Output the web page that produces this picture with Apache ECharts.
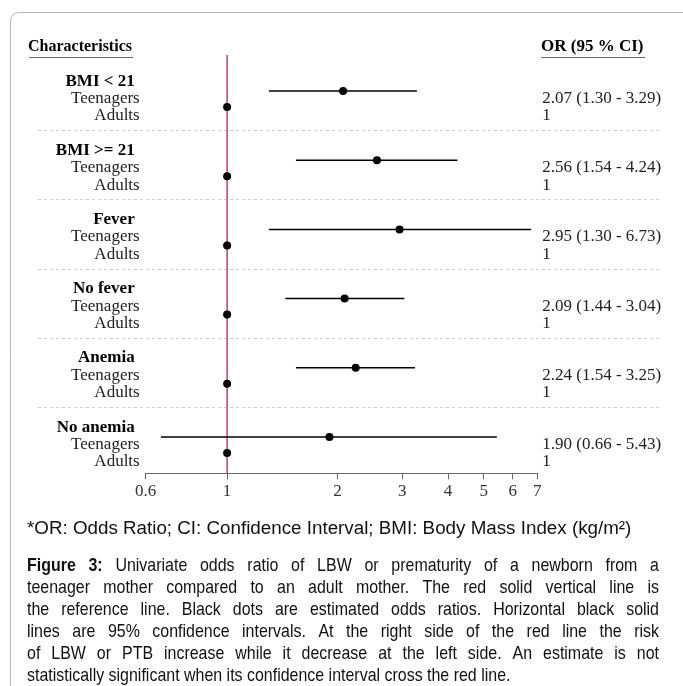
<!DOCTYPE html>
<html><head><meta charset="utf-8">
<script src="https://cdn.jsdelivr.net/npm/echarts@6/dist/echarts.min.js"></script>
<style>html,body{margin:0;padding:0;background:#fff}#c{width:683px;height:686px}</style>
</head><body><div id="c"></div>
<script>
// ---------------- data ----------------
const groups = ['BMI < 21', 'BMI >= 21', 'Fever', 'No fever', 'Anemia', 'No anemia'];
const subRows = ['Teenagers', 'Adults'];
const oddsRatio = [2.07, 2.56, 2.95, 2.09, 2.24, 1.90];
const ciLower = [1.30, 1.54, 1.30, 1.44, 1.54, 0.66];
const ciUpper = [3.29, 4.24, 6.73, 3.04, 3.25, 5.43];
const referenceOR = 1;
const xTicks = [0.6, 1, 2, 3, 4, 5, 6, 7];
const headerLeft = 'Characteristics';
const headerRight = 'OR (95 % CI)';
const footnote = '*OR: Odds Ratio; CI: Confidence Interval; BMI: Body Mass Index (kg/m\u00B2)';
const captionLines = [
  'Figure 3: Univariate odds ratio of LBW or prematurity of a newborn from a',
  'teenager mother compared to an adult mother. The red solid vertical line is',
  'the reference line. Black dots are estimated odds ratios. Horizontal black solid',
  'lines are 95% confidence intervals. At the right side of the red line the risk',
  'of LBW or PTB increase while it decrease at the left side. An estimate is not',
  'statistically significant when its confidence interval cross the red line.'
];

// ---------------- layout ----------------
const SERIF = 'Liberation Serif';
const SANS = 'Liberation Sans';
const GROUP_STEP = 4.325;          // plot rows per group (value units)
const Y_MIN = -1.106, Y_MAX = 23.894, Y_LINE_TOP = -2.25;
const PLOT_GRID = {left: 145.7, right: 145.7, top: 73.3, bottom: 212.7};
const TEXT_GRID = {left: 145.7, right: 145.7, top: 72.6, bottom: 198.2};

const rowIds = [];
const rowText = {};
const rightText = {};
groups.forEach((g, i) => {
  rowIds.push('h' + i, 't' + i, 'a' + i, 'b' + i);
  rowText['h' + i] = '{h|' + g + '}';
  rowText['t' + i] = '{s|' + subRows[0] + '}';
  rowText['a' + i] = '{s|' + subRows[1] + '}';
  rowText['b' + i] = '';
  rightText['h' + i] = '';
  rightText['t' + i] = oddsRatio[i].toFixed(2) + ' (' + ciLower[i].toFixed(2) + ' - ' + ciUpper[i].toFixed(2) + ')';
  rightText['a' + i] = String(referenceOR);
  rightText['b' + i] = '';
});

const teenPoints = groups.map((g, i) => [oddsRatio[i], i * GROUP_STEP]);
const adultPoints = groups.map((g, i) => [referenceOR, i * GROUP_STEP + 1]);
const ciData = groups.map((g, i) => [ciLower[i], ciUpper[i], i * GROUP_STEP]);

const chart = echarts.init(document.getElementById('c'), null, {renderer: 'canvas'});

chart.setOption({
  animation: false,
  backgroundColor: '#fff',
  grid: [
    Object.assign({outerBoundsMode: 'none', containLabel: false}, PLOT_GRID),
    Object.assign({outerBoundsMode: 'none', containLabel: false}, TEXT_GRID)
  ],
  xAxis: [{
    type: 'log', logBase: 10, min: 0.6, max: 7, gridIndex: 0,
    axisLine: {show: true, onZero: false, lineStyle: {color: '#666', width: 1}},
    axisTick: {show: true, length: 6, customValues: xTicks, lineStyle: {color: '#666', width: 1}},
    minorTick: {show: false},
    axisLabel: {
      customValues: xTicks, margin: 10, fontFamily: SERIF, fontSize: 17, color: '#333',
      formatter: v => String(Math.round(v * 10) / 10)
    },
    splitLine: {show: false}
  }, {
    type: 'value', gridIndex: 1, show: false
  }],
  yAxis: [
    {type: 'value', gridIndex: 0, min: Y_MIN, max: Y_MAX, inverse: true, show: false},
    {
      type: 'category', gridIndex: 1, data: rowIds, inverse: true, position: 'left',
      axisLine: {show: false}, axisTick: {show: false}, splitLine: {show: false},
      axisLabel: {
        interval: 0, margin: 6, formatter: v => rowText[v],
        rich: {
          h: {fontFamily: SERIF, fontSize: 17, fontWeight: 'bold', color: '#000', padding: [0, 5, 0, 0]},
          s: {fontFamily: SERIF, fontSize: 17, color: '#222'}
        }
      }
    },
    {
      type: 'category', gridIndex: 1, data: rowIds, inverse: true, position: 'right',
      axisLine: {show: false}, axisTick: {show: false}, splitLine: {show: false},
      axisLabel: {interval: 0, margin: 5, fontFamily: SERIF, fontSize: 17, color: '#222', formatter: v => rightText[v]}
    }
  ],
  series: [
    {
      type: 'line', xAxisIndex: 0, yAxisIndex: 0, clip: false, silent: true, symbol: 'none', z: 1,
      data: [[referenceOR, Y_LINE_TOP], [referenceOR, Y_MAX]],
      lineStyle: {color: '#c63a5e', width: 1.5}
    },
    {
      type: 'custom', xAxisIndex: 0, yAxisIndex: 0, silent: true, z: 2,
      encode: {x: [0, 1], y: 2},
      data: ciData,
      renderItem: (params, api) => {
        const p1 = api.coord([api.value(0), api.value(2)]);
        const p2 = api.coord([api.value(1), api.value(2)]);
        return {type: 'line', shape: {x1: p1[0], y1: p1[1], x2: p2[0], y2: p2[1]},
                style: {stroke: '#000', lineWidth: 1.5}};
      }
    },
    {
      type: 'scatter', xAxisIndex: 0, yAxisIndex: 0, silent: true, z: 3,
      symbolSize: 8, itemStyle: {color: '#000', opacity: 1}, data: teenPoints
    },
    {
      type: 'scatter', xAxisIndex: 0, yAxisIndex: 0, silent: true, z: 3,
      symbolSize: 8, itemStyle: {color: '#000', opacity: 1}, data: adultPoints
    }
  ]
});

// ---------------- decorations (frame, headers, separators, caption) ----------------
const els = [];
els.push({type: 'rect', shape: {x: 10.5, y: 12.5, width: 720, height: 700, r: 8},
          style: {fill: null, stroke: '#b4b4b4', lineWidth: 1}, z: 0});
els.push({type: 'text', x: 28, y: 47, style: {text: headerLeft, font: 'bold 16px "' + SERIF + '"', fill: '#000', verticalAlign: 'middle'}});
els.push({type: 'line', shape: {x1: 29, y1: 57.5, x2: 133, y2: 57.5}, style: {stroke: '#666', lineWidth: 1}});
els.push({type: 'text', x: 541, y: 47, style: {text: headerRight, font: 'bold 17px "' + SERIF + '"', fill: '#000', verticalAlign: 'middle'}});
els.push({type: 'line', shape: {x1: 541, y1: 57.5, x2: 645, y2: 57.5}, style: {stroke: '#666', lineWidth: 1}});

for (let i = 0; i < groups.length - 1; i++) {
  const y = Math.round(chart.convertToPixel({yAxisIndex: 1}, 4 * i + 3) - 3) + 0.5;
  els.push({type: 'line', shape: {x1: 38, y1: y, x2: 662, y2: y},
            style: {stroke: '#cfcfcf', lineWidth: 1, lineDash: [3, 3]}});
}

els.push({type: 'text', x: 27, y: 529, style: {text: footnote, font: '18.8px "' + SANS + '"', fill: '#111', verticalAlign: 'middle'}});

const ctx = document.createElement('canvas').getContext('2d');
const CAP_LEFT = 27, CAP_RIGHT = 659, CAP_TOP = 566, CAP_LH = 22, CAP_SX = 0.84, CAP_SIZE = 19;
const capFont = (bold) => (bold ? 'bold ' : '') + CAP_SIZE + 'px "' + SANS + '"';
captionLines.forEach((line, li) => {
  const words = line.split(' ');
  const fonts = words.map((w, wi) => capFont(li === 0 && wi < 2));
  const widths = words.map((w, wi) => { ctx.font = fonts[wi]; return ctx.measureText(w).width * CAP_SX; });
  ctx.font = capFont(false);
  const spaceW = ctx.measureText(' ').width * CAP_SX;
  const total = widths.reduce((a, b) => a + b, 0);
  const last = li === captionLines.length - 1;
  const gap = last ? spaceW : (CAP_RIGHT - CAP_LEFT - total) / (words.length - 1);
  let x = CAP_LEFT;
  const y = CAP_TOP + li * CAP_LH;
  words.forEach((w, wi) => {
    els.push({type: 'text', x: x, y: y, scaleX: CAP_SX, originX: 0,
              style: {text: w, font: fonts[wi], fill: '#111', verticalAlign: 'middle'}});
    x += widths[wi] + gap;
  });
});

chart.setOption({graphic: {elements: els.map(e => Object.assign({silent: true}, e))}});
</script>
</body></html>
